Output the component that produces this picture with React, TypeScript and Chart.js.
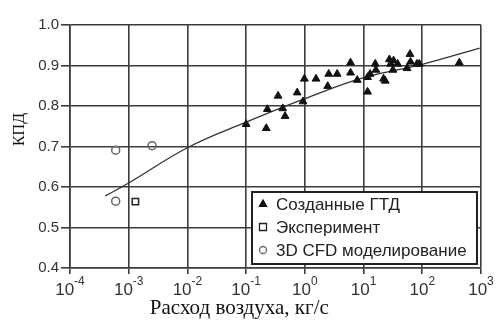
import React, { useEffect, useRef } from 'react';
import { Chart, registerables } from 'chart.js';

Chart.register(...registerables);

// Built gas-turbine engines: air flow (kg/s) and efficiency
const builtFlow = [0.1, 0.22, 0.23, 0.35, 0.42, 0.46, 0.74, 0.93, 0.98, 1.55, 2.45, 2.55, 3.55, 6.0, 6.0, 7.8, 11.7, 11.7, 12.9, 15.8, 16.2, 21.9, 23.4, 27.5, 28.8, 31.6, 32.4, 38, 55, 61.7, 63, 81, 89, 427];
const builtEff = [0.755, 0.745, 0.792, 0.825, 0.794, 0.775, 0.833, 0.811, 0.867, 0.867, 0.849, 0.879, 0.879, 0.907, 0.882, 0.864, 0.835, 0.871, 0.879, 0.904, 0.889, 0.867, 0.862, 0.915, 0.904, 0.889, 0.912, 0.904, 0.893, 0.928, 0.909, 0.904, 0.904, 0.907];

// Experiment
const expFlow = [1.3e-3];
const expEff = [0.564];

// 3D CFD modelling
const cfdFlow = [6e-4, 2.5e-3, 6e-4];
const cfdEff = [0.691, 0.702, 0.565];

// Trend curve
const trendFlow = [4e-4, 1e-3, 1e-2, 1e-1, 1, 10, 100, 950];
const trendEff = [0.578, 0.61, 0.697, 0.76, 0.818, 0.87, 0.903, 0.943];

const seriesNames = ['Созданные ГТД', 'Эксперимент', '3D CFD моделирование'];
const flowTicks = [1e-4, 1e-3, 1e-2, 1e-1, 1, 10, 100, 1000];
const flowTickBase = '10';
const flowTickExponents = ['-4', '-3', '-2', '-1', '0', '1', '2', '3'];
const yTitle = 'КПД';
const xTitle = 'Расход воздуха, кг/с';

const GRID = '#3c3c3c';
const SANS = '"Liberation Sans", Arial, sans-serif';
const SERIF = '"Liberation Serif", "Times New Roman", serif';

const pts = (xs: number[], ys: number[]) => xs.map((x, i) => ({ x, y: ys[i] }));

function drawMarker(ctx: CanvasRenderingContext2D, style: string, x: number, y: number, r: number, fill: string, stroke: string, lw: number) {
  ctx.save();
  ctx.beginPath();
  if (style === 'triangle') {
    ctx.moveTo(x, y - r);
    ctx.lineTo(x + r * 0.9, y + r * 0.6);
    ctx.lineTo(x - r * 0.9, y + r * 0.6);
    ctx.closePath();
  } else if (style === 'rect') {
    ctx.rect(x - r, y - r, r * 2, r * 2);
  } else {
    ctx.arc(x, y, r, 0, Math.PI * 2);
  }
  ctx.fillStyle = fill;
  ctx.fill();
  ctx.lineWidth = lw;
  ctx.strokeStyle = stroke;
  ctx.stroke();
  ctx.restore();
}

const overlay = {
  id: 'overlay',
  afterDraw(chart: any) {
    const ctx: CanvasRenderingContext2D = chart.ctx;
    const a = chart.chartArea;
    const xs = chart.scales.x;
    ctx.save();

    // decade tick labels with raised exponents
    ctx.fillStyle = '#333';
    ctx.textBaseline = 'alphabetic';
    ctx.textAlign = 'left';
    flowTicks.forEach((v, i) => {
      const px = xs.getPixelForValue(v);
      ctx.font = `17px ${SANS}`;
      const wb = ctx.measureText(flowTickBase).width;
      ctx.font = `12px ${SANS}`;
      const we = ctx.measureText(flowTickExponents[i]).width;
      const x0 = px - (wb + we) / 2;
      ctx.font = `17px ${SANS}`;
      ctx.fillText(flowTickBase, x0, a.bottom + 27);
      ctx.font = `12px ${SANS}`;
      ctx.fillText(flowTickExponents[i], x0 + wb, a.bottom + 17);
    });

    // axis titles
    ctx.fillStyle = '#111';
    ctx.textAlign = 'center';
    ctx.textBaseline = 'middle';
    ctx.font = `16px ${SERIF}`;
    ctx.save();
    ctx.translate(20, a.top + (a.bottom - a.top) * 0.43);
    ctx.rotate(-Math.PI / 2);
    ctx.fillText(yTitle, 0, 0);
    ctx.restore();
    ctx.font = `21px ${SERIF}`;
    ctx.fillText(xTitle, a.left + (a.right - a.left) * 0.412, chart.height - 15);

    // legend box inside the plot, bottom-right
    const boxW = 225, boxH = 72;
    const bx = a.right - 4 - boxW, by = a.bottom - 4 - boxH;
    ctx.fillStyle = '#fff';
    ctx.fillRect(bx, by, boxW, boxH);
    ctx.lineWidth = 2;
    ctx.strokeStyle = '#222';
    ctx.strokeRect(bx, by, boxW, boxH);

    const items = chart.data.datasets.filter((d: any) => d.legend);
    ctx.font = `17px ${SANS}`;
    ctx.textAlign = 'left';
    items.forEach((d: any, i: number) => {
      const cy = by + 12 + i * 23;
      drawMarker(ctx, d.pointStyle, bx + 11, cy, d.pointStyle === 'triangle' ? 4 : 3.5, d.legendFill, d.borderColor, 1.3);
      ctx.fillStyle = '#222';
      ctx.fillText(d.label, bx + 24, cy + 1);
    });
    ctx.restore();
  },
};

export default function App() {
  const ref = useRef<HTMLCanvasElement>(null);

  useEffect(() => {
    if (!ref.current) return;
    const chart = new Chart(ref.current, {
      type: 'scatter',
      data: {
        datasets: [
          {
            label: 'trend',
            type: 'line',
            data: pts(trendFlow, trendEff),
            borderColor: '#333',
            borderWidth: 1.3,
            pointRadius: 0,
            tension: 0.4,
            fill: false,
            order: 3,
          } as any,
          {
            label: seriesNames[0],
            legend: true,
            data: pts(builtFlow, builtEff),
            pointStyle: 'triangle',
            pointRadius: 4.5,
            backgroundColor: '#111',
            borderColor: '#111',
            borderWidth: 1,
            legendFill: '#111',
            order: 1,
          } as any,
          {
            label: seriesNames[1],
            legend: true,
            data: pts(expFlow, expEff),
            pointStyle: 'rect',
            pointRadius: 4.5,
            backgroundColor: 'rgba(255,255,255,0)',
            borderColor: '#222',
            borderWidth: 1.5,
            legendFill: '#fff',
            order: 1,
          } as any,
          {
            label: seriesNames[2],
            legend: true,
            data: pts(cfdFlow, cfdEff),
            pointStyle: 'circle',
            pointRadius: 4,
            backgroundColor: 'rgba(255,255,255,0)',
            borderColor: '#666',
            borderWidth: 1.5,
            legendFill: '#fff',
            order: 1,
          } as any,
        ],
      },
      options: {
        animation: false,
        responsive: true,
        maintainAspectRatio: false,
        layout: { padding: { top: 25, right: 18, left: 0, bottom: 0 } },
        plugins: { legend: { display: false }, tooltip: { enabled: false } },
        scales: {
          x: {
            type: 'logarithmic',
            min: 1e-4,
            max: 1e3,
            afterBuildTicks: (s: any) => {
              s.ticks = flowTicks.map((v) => ({ value: v }));
            },
            afterFit: (s: any) => {
              s.height = 55;
            },
            ticks: { display: false, autoSkip: false },
            grid: { color: GRID, lineWidth: 1.6, tickLength: 6, tickColor: GRID, drawTicks: true },
            border: { color: GRID, width: 1.6 },
          },
          y: {
            min: 0.4,
            max: 1.0,
            afterFit: (s: any) => {
              s.width = 70;
            },
            ticks: {
              stepSize: 0.1,
              padding: 2,
              color: '#333',
              font: { family: SANS, size: 15 },
              callback: (v: any) => Number(v).toFixed(1),
            },
            grid: { color: GRID, lineWidth: 1.6, tickLength: 9, tickColor: GRID },
            border: { color: GRID, width: 1.6 },
          },
        },
      } as any,
      plugins: [overlay],
    });
    return () => chart.destroy();
  }, []);

  return (
    <div style={{ position: 'fixed', left: 0, top: 0, width: 499, height: 323, background: '#fff' }}>
      <canvas ref={ref} />
    </div>
  );
}
